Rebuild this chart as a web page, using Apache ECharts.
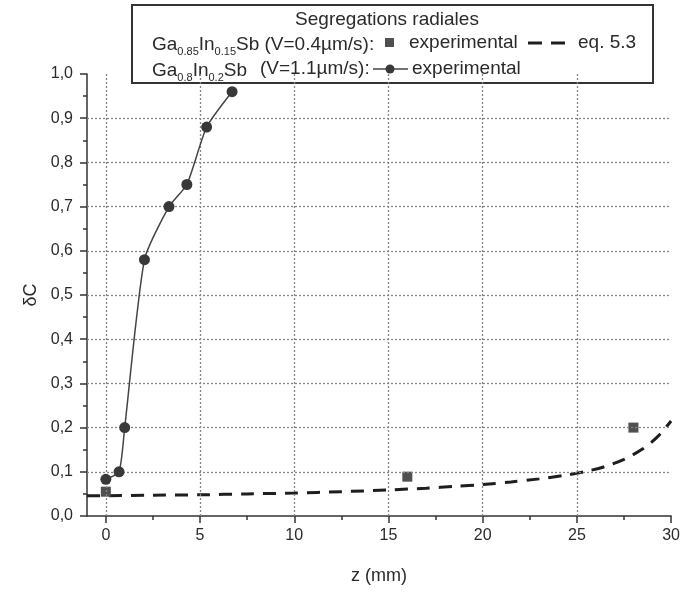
<!DOCTYPE html>
<html>
<head>
<meta charset="utf-8">
<script src="https://cdn.jsdelivr.net/npm/echarts@6/dist/echarts.min.js"></script>
<style>
html,body{margin:0;padding:0;background:#fff;}
#chart{width:683px;height:590px;}
</style>
</head>
<body>
<div id="chart"></div>
<script>
// Ga0.8In0.2Sb (V=1.1µm/s) experimental
const circleZ = [0, 0.7, 1.0, 2.05, 3.35, 4.3, 5.35, 6.7];
const circleC = [0.083, 0.10, 0.20, 0.58, 0.70, 0.75, 0.88, 0.96];
// Ga0.85In0.15Sb (V=0.4µm/s) experimental
const squareZ = [0, 16, 28];
const squareC = [0.055, 0.089, 0.20];
// eq. 5.3
const eqZ = [-1, 0, 2.5, 5, 7.5, 10, 12.5, 15, 17, 18.5, 20, 21.5, 23, 24.5, 25.5, 26.5, 27.5, 28.5, 29.3, 30];
const eqC = [0.046, 0.046, 0.047, 0.048, 0.050, 0.052, 0.055, 0.059, 0.063, 0.067, 0.071, 0.077, 0.084, 0.093, 0.101, 0.112, 0.128, 0.152, 0.180, 0.215];
// ticks and grid
const xMajorTicks = [0, 5, 10, 15, 20, 25, 30];
const xMinorTicks = [2.5, 7.5, 12.5, 17.5, 22.5, 27.5];
const xGrid = [0, 5, 10, 15, 20, 25];
const yGrid = [0.1, 0.2, 0.3, 0.4, 0.5, 0.6, 0.7, 0.8, 0.9];

const FONT = "'Liberation Sans', Arial, Helvetica, sans-serif";
const AX = '#333';
const TXT = '#2a2a2a';
const LF = 19;

const zip = (a, b) => a.map((v, i) => [v, b[i]]);

const chart = echarts.init(document.getElementById('chart'), null, {renderer: 'canvas'});

const richSub = {
  n: {fontSize: LF, fontFamily: FONT, lineHeight: 24, color: TXT},
  s: {fontSize: 11, fontFamily: FONT, lineHeight: 24, verticalAlign: 'bottom', color: TXT}
};

const option = {
  animation: false,
  backgroundColor: '#fff',
  textStyle: {fontFamily: FONT},
  grid: {left: 87, right: 10, top: 74, bottom: 73, containLabel: false},
  xAxis: [{
    type: 'value', min: -1, max: 30,
    axisLine: {show: true, onZero: false, lineStyle: {color: AX, width: 1.5}},
    axisTick: {show: true, customValues: xMajorTicks, length: 7, inside: false, lineStyle: {color: AX, width: 1.5}},
    axisLabel: {show: true, customValues: xMajorTicks, fontSize: 16, color: TXT, margin: 12, fontFamily: FONT},
    splitLine: {show: false},
    name: 'z (mm)', nameLocation: 'middle', nameGap: 51,
    nameTextStyle: {fontSize: 18, color: TXT, fontFamily: FONT}
  }, {
    type: 'value', min: -1, max: 30, position: 'bottom', gridIndex: 0,
    axisLine: {show: false},
    axisTick: {show: true, customValues: xMinorTicks, length: 4, lineStyle: {color: AX, width: 1.5}},
    axisLabel: {show: false},
    splitLine: {show: false}
  }],
  yAxis: {
    type: 'value', min: 0, max: 1, interval: 0.1,
    axisLine: {show: true, onZero: false, lineStyle: {color: AX, width: 1.5}},
    axisTick: {show: true, length: 7, lineStyle: {color: AX, width: 1.5}},
    minorTick: {show: true, splitNumber: 2, length: 4, lineStyle: {color: AX, width: 1.5}},
    axisLabel: {fontSize: 16, color: TXT, margin: 14, fontFamily: FONT,
      formatter: v => v.toFixed(1).replace('.', ',')},
    splitLine: {show: false},
    name: 'δC', nameLocation: 'middle', nameGap: 40,
    nameTextStyle: {fontSize: 18, color: TXT, fontFamily: FONT}
  },
  series: [
    {
      type: 'line', data: [], z: 1, silent: true,
      markLine: {
        silent: true, symbol: ['none', 'none'], label: {show: false},
        lineStyle: {type: [2, 2], color: '#858585', width: 1.3},
        emphasis: {disabled: true},
        data: [...xGrid.map(v => ({xAxis: v})), ...yGrid.map(v => ({yAxis: v}))]
      }
    },
    {
      name: 'eq. 5.3', type: 'line', data: zip(eqZ, eqC), smooth: 0.3, showSymbol: false, symbol: 'none', z: 3,
      lineStyle: {color: '#1e1e1e', width: 3, type: [13, 9]}
    },
    {
      name: 'sq', type: 'scatter', data: zip(squareZ, squareC), symbol: 'rect', symbolSize: 10, z: 4,
      itemStyle: {color: '#505050', opacity: 1}
    },
    {
      name: 'circ', type: 'line', data: zip(circleZ, circleC), smooth: 0.2, symbol: 'circle', symbolSize: 11, z: 5,
      showAllSymbol: true,
      lineStyle: {color: '#444', width: 1.5},
      itemStyle: {color: '#383838', borderWidth: 0, opacity: 1}
    }
  ],
  graphic: [{
    type: 'group', z: 100,
    children: [
      {type: 'rect', shape: {x: 132, y: 5, width: 521, height: 78},
        style: {fill: '#fff', stroke: '#333', lineWidth: 2}},
      {type: 'text', x: 387, y: 20, style: {text: 'Segregations radiales', font: LF + 'px ' + FONT, fill: TXT, align: 'center', verticalAlign: 'middle'}},
      {type: 'text', x: 152, y: 45, style: {
        text: '{n|Ga}{s|0.85}{n|In}{s|0.15}{n|Sb (V=0.4µm/s):}',
        verticalAlign: 'middle', fill: TXT, rich: richSub
      }},
      {type: 'rect', shape: {x: 385, y: 38, width: 9, height: 9}, style: {fill: '#505050'}},
      {type: 'text', x: 409, y: 43, style: {text: 'experimental', font: LF + 'px ' + FONT, fill: TXT, verticalAlign: 'middle'}},
      {type: 'line', shape: {x1: 528, y1: 43, x2: 542, y2: 43}, style: {stroke: '#1e1e1e', lineWidth: 3}},
      {type: 'line', shape: {x1: 551, y1: 43, x2: 565, y2: 43}, style: {stroke: '#1e1e1e', lineWidth: 3}},
      {type: 'text', x: 578, y: 43, style: {text: 'eq. 5.3', font: LF + 'px ' + FONT, fill: TXT, verticalAlign: 'middle'}},
      {type: 'text', x: 152, y: 71, style: {
        text: '{n|Ga}{s|0.8}{n|In}{s|0.2}{n|Sb}',
        verticalAlign: 'middle', fill: TXT, rich: richSub
      }},
      {type: 'text', x: 260, y: 69, style: {text: '(V=1.1µm/s):', font: LF + 'px ' + FONT, fill: TXT, verticalAlign: 'middle'}},
      {type: 'line', shape: {x1: 373, y1: 69, x2: 408, y2: 69}, style: {stroke: '#444', lineWidth: 1.5}},
      {type: 'circle', shape: {cx: 390, cy: 69, r: 4.5}, style: {fill: '#383838'}},
      {type: 'text', x: 412, y: 69, style: {text: 'experimental', font: LF + 'px ' + FONT, fill: TXT, verticalAlign: 'middle'}}
    ]
  }]
};
chart.setOption(option);
</script>
</body>
</html>
